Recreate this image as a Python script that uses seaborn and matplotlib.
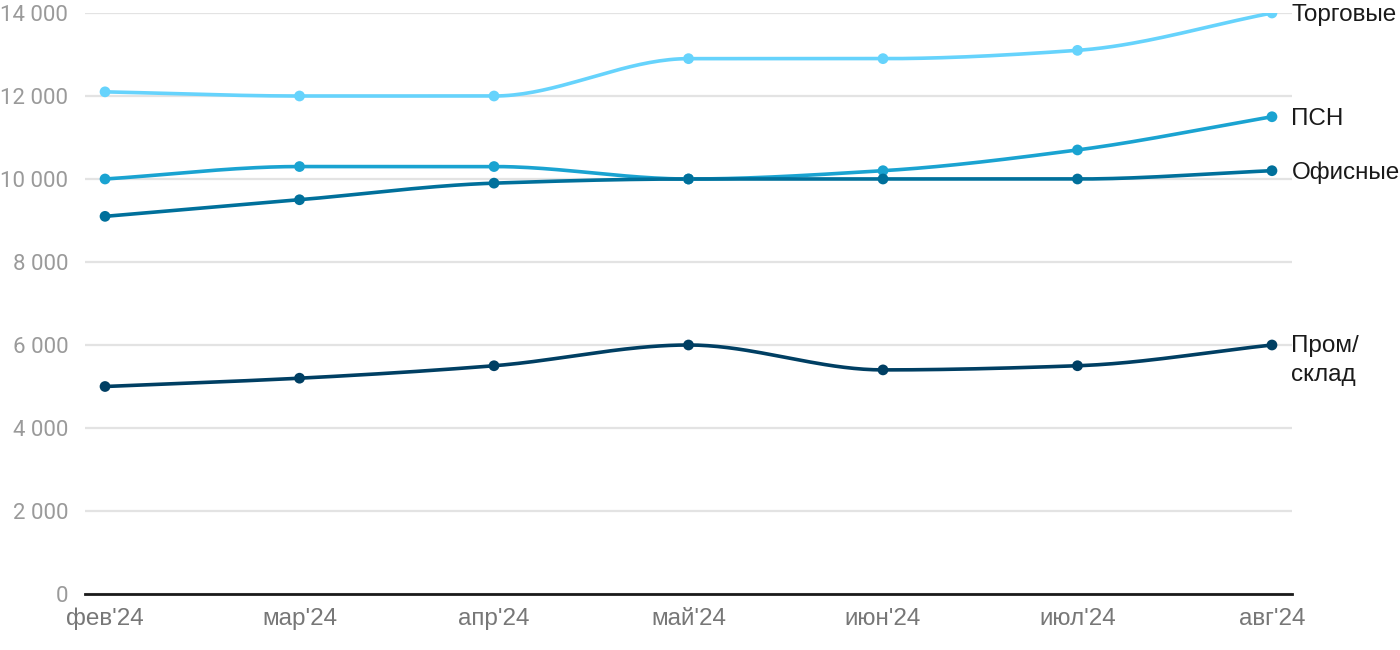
import numpy as np
import pandas as pd
import matplotlib
matplotlib.use("Agg")
import matplotlib.pyplot as plt
import seaborn as sns

months = ["фев'24", "мар'24", "апр'24", "май'24", "июн'24", "июл'24", "авг'24"]
torg = [12100, 12000, 12000, 12900, 12900, 13100, 14000]
psn = [10000, 10300, 10300, 10000, 10200, 10700, 11500]
ofis = [9100, 9500, 9900, 10000, 10000, 10000, 10200]
prom = [5000, 5200, 5500, 6000, 5400, 5500, 6000]

series = [
    ("Торговые", torg, "#66D3FC"),
    ("ПСН", psn, "#1AA3D1"),
    ("Офисные", ofis, "#00709B"),
    ("Пром/\nсклад", prom, "#003F63"),
]


def monotone(x, y, n=40):
    # monotone cubic (Fritsch-Carlson) for the smooth line rendering
    x = np.asarray(x, float)
    y = np.asarray(y, float)
    h = np.diff(x)
    d = np.diff(y) / h
    m = np.zeros_like(y)
    m[0], m[-1] = d[0], d[-1]
    for i in range(1, len(y) - 1):
        if d[i - 1] * d[i] <= 0:
            m[i] = 0
        else:
            w1 = 2 * h[i] + h[i - 1]
            w2 = h[i] + 2 * h[i - 1]
            m[i] = (w1 + w2) / (w1 / d[i - 1] + w2 / d[i])
    xs, ys = [], []
    for i in range(len(x) - 1):
        t = np.linspace(0, 1, n, endpoint=(i == len(x) - 2))
        h00 = 2 * t**3 - 3 * t**2 + 1
        h10 = t**3 - 2 * t**2 + t
        h01 = -2 * t**3 + 3 * t**2
        h11 = t**3 - t**2
        xs.append(x[i] + t * h[i])
        ys.append(h00 * y[i] + h10 * h[i] * m[i] + h01 * y[i + 1] + h11 * h[i] * m[i + 1])
    return np.concatenate(xs), np.concatenate(ys)


sns.set_style("white")
plt.rcParams["font.family"] = ["Roboto", "DejaVu Sans"]
sans = ["Liberation Sans", "DejaVu Sans"]

fig = plt.figure(figsize=(14, 6.5), dpi=100)
ax = fig.add_axes([85 / 1400, 56 / 650, 1207 / 1400, 581 / 650])

idx = np.arange(len(months))
for name, vals, color in series:
    sx, sy = monotone(idx, vals)
    smooth = pd.DataFrame({"x": sx, "y": sy})
    sns.lineplot(data=smooth, x="x", y="y", color=color, lw=2.6, ax=ax, sort=False)
    pts = pd.DataFrame({"x": idx, "y": vals})
    sns.scatterplot(data=pts, x="x", y="y", color=color, s=60, edgecolor="none", ax=ax, zorder=5)
    if "\n" in name:
        ax.annotate(name, (idx[-1], vals[-1]), xytext=(14, 7.5), textcoords="offset points",
                    va="top", ha="left", fontsize=17.5, color="#1a1a1a", linespacing=1.45,
                    family=sans)
    else:
        ax.annotate(name, (idx[-1], vals[-1]), xytext=(14, -1.5), textcoords="offset points",
                    va="center", ha="left", fontsize=17.5, color="#1a1a1a", family=sans)

ax.set_xlim(-0.103, 6.103)
ax.set_ylim(0, 14000)
ax.set_yticks(range(0, 14001, 2000))
ax.set_yticklabels([f"{v:,}".replace(",", " ") for v in range(0, 14001, 2000)])
ax.set_xticks(idx)
ax.set_xticklabels(months, family=sans)
ax.set_xlabel("")
ax.set_ylabel("")
ax.grid(axis="y", color="#e3e3e3", lw=1.6)
ax.set_axisbelow(True)
for s in ["top", "right", "left"]:
    ax.spines[s].set_visible(False)
ax.spines["bottom"].set_color("#1a1a1a")
ax.spines["bottom"].set_linewidth(2)
ax.spines["bottom"].set_zorder(3)
ax.tick_params(axis="y", length=0, pad=12, labelsize=16, labelcolor="#9a9a9a")
ax.tick_params(axis="x", length=0, pad=10, labelsize=17.5, labelcolor="#777777")

fig.savefig("out.png", dpi=100)
